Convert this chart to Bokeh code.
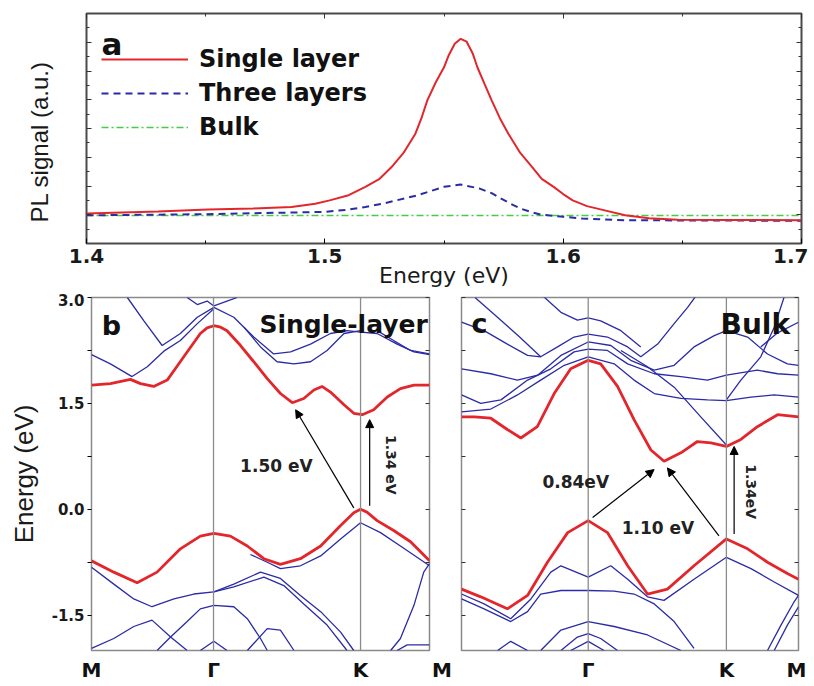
import math
from bokeh.plotting import figure
from bokeh.models import (Range1d, LinearAxis, FixedTicker, Label, Arrow, NormalHead,
                          Span, Legend, LegendItem, CustomJSTickFormatter)
from bokeh.layouts import column, row
from bokeh.embed import file_html
from bokeh.resources import INLINE

# ---------------- panel a : PL spectra ----------------
pl_energy_single = [1.400, 1.430, 1.451, 1.470, 1.486, 1.496, 1.502, 1.510, 1.517, 1.523, 1.528,
                    1.533, 1.538, 1.5405, 1.543, 1.5465, 1.550, 1.552, 1.5545, 1.557, 1.5595,
                    1.562, 1.564, 1.567, 1.570, 1.5735, 1.577, 1.582, 1.587, 1.591, 1.596, 1.600,
                    1.604, 1.610, 1.617, 1.626, 1.636, 1.648, 1.670, 1.700]
pl_single = [1.04, 1.11, 1.18, 1.22, 1.27, 1.38, 1.50, 1.68, 1.97, 2.25, 2.66, 3.15, 3.82, 4.35,
             4.98, 5.60, 6.13, 6.55, 6.95, 7.12, 7.02, 6.62, 6.13, 5.55, 4.98, 4.35, 3.82, 3.15,
             2.66, 2.25, 1.97, 1.72, 1.50, 1.30, 1.16, 0.98, 0.88, 0.83, 0.82, 0.81]
pl_energy_three = [1.400, 1.450, 1.500, 1.510, 1.517, 1.524, 1.530, 1.535, 1.539, 1.545, 1.550,
                   1.557, 1.565, 1.570, 1.574, 1.578, 1.582, 1.587, 1.591, 1.600, 1.608, 1.626,
                   1.660, 1.700]
pl_three = [0.98, 1.02, 1.10, 1.18, 1.27, 1.38, 1.50, 1.60, 1.68, 1.84, 1.97, 2.05, 1.91, 1.75,
            1.56, 1.38, 1.22, 1.08, 1.00, 0.93, 0.87, 0.81, 0.80, 0.79]
pl_energy_bulk = [1.40, 1.50, 1.60, 1.70]
pl_bulk = [0.97, 0.97, 0.97, 0.97]
series_names = ["Single layer", "Three layers", "Bulk"]
x_ticks_a = [1.4, 1.5, 1.6, 1.7]

# ---------------- panel b : single layer bands ----------------
b_klabels = ["M", "\u0393", "K", "\u2003\u2005M"]
b_kpts = [0.0, 0.361, 0.796, 1.0]
b_cb_k = [0, 0.056, 0.115, 0.145, 0.184, 0.224, 0.273, 0.322, 0.342, 0.362, 0.382, 0.401, 0.441,
          0.480, 0.520, 0.559, 0.594, 0.628, 0.658, 0.682, 0.707, 0.747, 0.776, 0.801, 0.835,
          0.875, 0.914, 0.954, 1.0]
b_cb = [1.76, 1.78, 1.84, 1.78, 1.74, 1.83, 2.16, 2.49, 2.57, 2.60, 2.58, 2.53, 2.32, 2.09, 1.85,
        1.64, 1.51, 1.57, 1.69, 1.74, 1.66, 1.48, 1.36, 1.34, 1.41, 1.59, 1.71, 1.76, 1.76]
b_vb_k = [0, 0.066, 0.135, 0.194, 0.263, 0.322, 0.362, 0.411, 0.461, 0.510, 0.559, 0.618, 0.678,
          0.737, 0.776, 0.796, 0.815, 0.845, 0.894, 0.944, 1.0]
b_vb = [-0.73, -0.89, -1.04, -0.89, -0.56, -0.38, -0.34, -0.38, -0.52, -0.70, -0.78, -0.70, -0.52,
        -0.23, -0.05, 0.0, -0.04, -0.16, -0.30, -0.46, -0.73]
b_other_k = [
    [0, 0.066, 0.125, 0.179, 0.244, 0.303, 0.362],
    [0.362, 0.421, 0.500, 0.559, 0.618, 0.678, 0.737, 0.776],
    [0.362, 0.421, 0.510, 0.569, 0.628, 0.697, 0.756],
    [0.470, 0.520, 0.559, 0.618, 0.678, 0.737, 0.796, 0.855, 0.914, 1.0],
    [0, 0.066, 0.125, 0.179, 0.234, 0.283],
    [0.194, 0.234, 0.283, 0.322, 0.362, 0.421, 0.461, 0.500, 0.520],
    [0.322, 0.362, 0.401],
    [0.461, 0.520, 0.559, 0.599],
    [0.885, 0.914, 0.954, 0.983, 1.0],
    [0.904, 0.934, 1.0],
    [0, 0.056, 0.120, 0.165, 0.214, 0.263, 0.313, 0.362],
    [0.106, 0.155, 0.209, 0.263, 0.313, 0.362],
    [0.362, 0.421, 0.480, 0.539, 0.589, 0.648, 0.707, 0.756, 0.796, 0.845, 0.904, 0.954, 1.0],
    [0.451, 0.500, 0.549, 0.599, 0.648, 0.697, 0.747, 0.796],
    [0.283, 0.313, 0.342, 0.362, 0.401, 0.431],
    [0.845, 0.894, 0.944, 1.0],
]
b_other_e = [
    [-0.82, -1.06, -1.27, -1.38, -1.27, -1.20, -1.17],
    [-1.17, -1.06, -0.89, -0.98, -1.22, -1.45, -1.74, -2.0],
    [-1.17, -1.10, -0.96, -1.08, -1.34, -1.64, -2.0],
    [-0.64, -0.75, -0.84, -0.80, -0.66, -0.42, -0.19, -0.33, -0.52, -0.80],
    [-1.97, -1.83, -1.66, -1.57, -1.81, -2.0],
    [-2.0, -1.81, -1.59, -1.41, -1.36, -1.38, -1.55, -1.83, -2.0],
    [-2.0, -1.87, -2.0],
    [-2.0, -1.69, -1.71, -2.0],
    [-2.0, -1.83, -1.36, -0.89, -0.77],
    [-2.0, -1.92, -1.92],
    [2.19, 2.06, 1.88, 2.02, 2.24, 2.39, 2.63, 2.84],
    [3.0, 2.67, 2.32, 2.49, 2.72, 2.86],
    [2.86, 2.72, 2.44, 2.20, 2.23, 2.34, 2.49, 2.53, 2.51, 2.49, 2.34, 2.23, 2.19],
    [2.58, 2.30, 2.09, 2.06, 2.09, 2.25, 2.49, 2.53],
    [3.0, 2.90, 2.95, 2.88, 2.95, 3.0],
    [2.53, 2.39, 2.25, 2.20],
]

# ---------------- panel c : bulk bands ----------------
c_klabels = ["\u0393", "K", "M"]
c_kpts = [0.376, 0.786, 1.0]
c_cb_k = [0, 0.038, 0.087, 0.136, 0.176, 0.225, 0.275, 0.324, 0.376, 0.413, 0.463, 0.512, 0.562,
          0.601, 0.651, 0.700, 0.740, 0.786, 0.829, 0.878, 0.938, 1.0]
c_cb = [1.31, 1.31, 1.29, 1.13, 1.01, 1.17, 1.64, 1.99, 2.11, 2.06, 1.74, 1.27, 0.84, 0.68, 0.80,
        0.96, 0.94, 0.89, 0.99, 1.17, 1.34, 1.31]
c_vb_k = [0, 0.057, 0.136, 0.196, 0.255, 0.315, 0.376, 0.433, 0.493, 0.552, 0.611, 0.690, 0.786,
          0.849, 0.908, 0.967, 1.0]
c_vb = [-1.13, -1.24, -1.41, -1.22, -0.75, -0.33, -0.16, -0.33, -0.80, -1.20, -1.13, -0.80, -0.42,
        -0.56, -0.75, -0.91, -0.99]
c_other_k = [
    [0, 0.067, 0.146, 0.206, 0.265, 0.295, 0.376, 0.443, 0.493, 0.552, 0.601, 0.690, 0.786, 0.859, 0.928, 1.0],
    [0, 0.067, 0.146, 0.196, 0.235, 0.295, 0.376, 0.453, 0.512, 0.572, 0.631, 0.690],
    [0.235, 0.295, 0.376, 0.453, 0.552, 0.651],
    [0.295, 0.344, 0.376, 0.413, 0.463],
    [0.324, 0.376, 0.423],
    [0.107, 0.146, 0.196],
    [0.908, 0.948, 0.987, 1.0],
    [0.928, 0.967, 1.0],
    [0, 0.087, 0.166, 0.235, 0.305, 0.376, 0.453, 0.512, 0.572, 0.651, 0.730, 0.786, 0.859, 0.928, 1.0],
    [0, 0.057, 0.117, 0.196, 0.265, 0.334, 0.376, 0.433, 0.493, 0.572, 0.651, 0.730, 0.786, 0.878, 0.938, 1.0],
    [0, 0.087, 0.166, 0.226, 0.295, 0.376, 0.443, 0.502, 0.572, 0.631, 0.690, 0.750, 0.786, 0.849, 0.908, 0.967, 1.0],
    [0, 0.067, 0.136, 0.196, 0.235, 0.285, 0.334, 0.376, 0.433, 0.493, 0.532, 0.582, 0.631, 0.671, 0.700],
    [0.235, 0.295, 0.344, 0.376, 0.413, 0.473, 0.532],
    [0.473, 0.552, 0.631, 0.710, 0.786],
    [0.786, 0.829, 0.888, 0.928, 0.957],
    [0.888, 0.938, 1.0],
    [0.04, 0.10, 0.17, 0.235],
]
c_other_e = [
    [-1.20, -1.34, -1.55, -1.27, -0.89, -0.80, -0.96, -0.80, -0.99, -1.24, -1.29, -0.99, -0.68, -0.84, -1.03, -1.22],
    [-1.27, -1.41, -1.59, -1.45, -1.20, -1.15, -1.15, -1.16, -1.20, -1.34, -1.59, -1.97],
    [-2.0, -1.71, -1.59, -1.66, -1.78, -2.0],
    [-2.0, -1.81, -1.76, -1.83, -2.0],
    [-2.0, -1.87, -2.0],
    [-2.0, -1.87, -2.0],
    [-2.0, -1.64, -1.31, -1.22],
    [-2.0, -1.64, -1.38],
    [1.38, 1.42, 1.62, 1.83, 2.04, 2.16, 2.06, 1.83, 1.64, 1.57, 1.55, 1.54, 1.59, 1.62, 1.59],
    [1.62, 1.50, 1.55, 1.83, 1.99, 2.23, 2.27, 2.25, 2.06, 1.92, 1.88, 1.83, 1.90, 1.97, 1.92, 1.90],
    [1.99, 1.92, 1.83, 1.90, 2.18, 2.37, 2.32, 2.11, 1.97, 2.04, 2.30, 2.46, 2.53, 2.44, 2.20, 2.06, 2.04],
    [2.65, 2.53, 2.34, 2.18, 2.16, 2.30, 2.44, 2.48, 2.44, 2.30, 2.16, 2.34, 2.63, 2.86, 3.05],
    [3.05, 2.79, 2.68, 2.71, 2.67, 2.53, 2.30],
    [2.25, 2.02, 1.73, 1.31, 0.91],
    [1.55, 1.83, 2.16, 2.58, 3.0],
    [2.30, 2.50, 2.65],
    [3.0, 2.75, 2.45, 2.16],
]
e_ticks = [-1.5, 0.0, 1.5, 3.0]
e_minor = [-0.75, 0.75, 2.25]

RED = "#e3262b"
BLUE = "#2b2ba6"
BOLD = "DejaVu Sans"


def blank_axis(ax, tin=5, tout=0, mtin=3, mtout=0):
    ax.formatter = CustomJSTickFormatter(code="return ''")
    ax.major_label_text_font_size = "0px"
    ax.major_label_standoff = 0
    ax.major_tick_in = tin
    ax.major_tick_out = tout
    ax.minor_tick_in = mtin
    ax.minor_tick_out = mtout
    ax.axis_line_color = None
    ax.major_tick_line_color = "#333333"
    ax.minor_tick_line_color = "#333333"


# ================= panel a =================
pa = figure(width=808, height=293, x_range=Range1d(1.4, 1.7), y_range=Range1d(0, 8),
            min_border_left=86, min_border_right=7, min_border_top=13, min_border_bottom=50,
            output_backend="svg", toolbar_location=None, x_axis_location=None, y_axis_location=None)
pa.grid.visible = False
pa.outline_line_color = "#4a4a4a"
pa.outline_line_width = 2

xa = LinearAxis(ticker=FixedTicker(ticks=x_ticks_a, minor_ticks=[1.45, 1.55, 1.65]),
                axis_label="Energy (eV)")
xa.major_label_text_font = BOLD
xa.major_label_text_font_style = "bold"
xa.major_label_text_font_size = "20px"
xa.major_label_text_color = "#1a1a1a"
xa.major_label_standoff = 5
xa.major_tick_in = 5
xa.major_tick_out = 0
xa.minor_tick_in = 3
xa.minor_tick_out = 0
xa.axis_line_color = None
xa.axis_label_text_font = "DejaVu Sans"
xa.axis_label_text_font_style = "normal"
xa.axis_label_text_font_size = "22px"
xa.axis_label_standoff = -3
xa.axis_label_text_color = "#1a1a1a"
pa.add_layout(xa, "below")

xt = LinearAxis(ticker=FixedTicker(ticks=x_ticks_a, minor_ticks=[1.45, 1.55, 1.65]))
blank_axis(xt)
pa.add_layout(xt, "above")

ya_ticker = FixedTicker(ticks=[1, 2, 3, 4, 5, 6, 7], minor_ticks=[0.5, 1.5, 2.5, 3.5, 4.5, 5.5, 6.5, 7.5])
ya = LinearAxis(ticker=ya_ticker, axis_label="PL signal (a.u.)\u00a0\u00a0\u00a0\u00a0")
blank_axis(ya)
ya.axis_label_text_font = "Liberation Sans"
ya.axis_label_text_font_style = "normal"
ya.axis_label_text_font_size = "24px"
ya.axis_label_standoff = 34
ya.axis_label_text_color = "#1a1a1a"
pa.add_layout(ya, "left")
yr = LinearAxis(ticker=ya_ticker)
blank_axis(yr)
pa.add_layout(yr, "right")

r_bulk = pa.line(pl_energy_bulk, pl_bulk, line_color="#44cc44", line_width=1.5, line_dash="7 3 2 3")
r_three = pa.line(pl_energy_three, pl_three, line_color=BLUE, line_width=2, line_dash="7 5")
r_single = pa.line(pl_energy_single, pl_single, line_color=RED, line_width=2)

legend = Legend(items=[LegendItem(label=series_names[0], renderers=[r_single]),
                       LegendItem(label=series_names[1], renderers=[r_three]),
                       LegendItem(label=series_names[2], renderers=[r_bulk])],
                location=(15, 102), glyph_width=87, glyph_height=20, label_standoff=11,
                spacing=6, padding=0, margin=0, border_line_color=None, background_fill_alpha=0,
                label_text_font=BOLD, label_text_font_style="bold", label_text_font_size="24px",
                label_text_color="#111111")
pa.add_layout(legend)
pa.add_layout(Label(x=1.4063, y=6.95, text="a", text_font=BOLD, text_font_style="bold",
                    text_font_size="31px", text_baseline="alphabetic", text_color="#111111"))


# ================= band panels =================
def band_panel(width, mbl, mbr, kpts, klabels, vlines, other_k, other_e, cb_k, cb, vb_k, vb,
               labelled):
    p = figure(width=width, height=391, x_range=Range1d(0, 1), y_range=Range1d(-2.0, 3.0),
               min_border_left=mbl, min_border_right=mbr, min_border_top=4, min_border_bottom=32,
               output_backend="svg", toolbar_location=None, x_axis_location=None,
               y_axis_location=None)
    p.grid.visible = False
    p.outline_line_color = "#8a8a8a"
    p.outline_line_width = 1.5
    for kk in vlines:
        p.add_layout(Span(location=kk, dimension="height", line_color="#8c8c8c", line_width=1.3))
    p.multi_line(other_k, other_e, line_color=BLUE, line_width=1.3)
    p.line(cb_k, cb, line_color=RED, line_width=2.8)
    p.line(vb_k, vb, line_color=RED, line_width=2.8)
    tick = FixedTicker(ticks=e_ticks, minor_ticks=e_minor)
    yl = LinearAxis(ticker=tick)
    if labelled:
        yl.formatter = CustomJSTickFormatter(code="return tick.toFixed(1)")
        yl.major_label_text_font = BOLD
        yl.major_label_text_font_style = "bold"
        yl.major_label_text_font_size = "15px"
        yl.major_label_text_color = "#1a1a1a"
        yl.major_label_standoff = 3
        yl.major_tick_in = 0
        yl.major_tick_out = 4
        yl.minor_tick_in = 0
        yl.minor_tick_out = 4
        yl.axis_line_color = None
        yl.axis_label = "Energy (eV)"
        yl.axis_label_text_font = "Liberation Sans"
        yl.axis_label_text_font_style = "normal"
        yl.axis_label_text_font_size = "26px"
        yl.axis_label_standoff = 10
        yl.axis_label_text_color = "#1a1a1a"
    else:
        blank_axis(yl, 4, 0, 4, 0)
    p.add_layout(yl, "left")
    yr2 = LinearAxis(ticker=tick)
    blank_axis(yr2, 4, 0, 4, 0)
    p.add_layout(yr2, "right")
    xb = LinearAxis(ticker=FixedTicker(ticks=kpts, minor_ticks=[]))
    xb.formatter = CustomJSTickFormatter(
        args=dict(ks=kpts, labs=klabels),
        code="for (let i = 0; i < ks.length; i++) { if (Math.abs(tick - ks[i]) < 1e-6) return labs[i]; } return '';")
    xb.major_label_text_font = BOLD
    xb.major_label_text_font_style = "bold"
    xb.major_label_text_font_size = "20px"
    xb.major_label_text_color = "#111111"
    xb.major_label_standoff = 7
    xb.major_tick_in = 0
    xb.major_tick_out = 0
    xb.axis_line_color = None
    p.add_layout(xb, "below")
    return p


pb = band_panel(458, 91, 29, b_kpts, b_klabels, b_kpts[1:3], b_other_k, b_other_e,
                b_cb_k, b_cb, b_vb_k, b_vb, True)
pc = band_panel(348, 3, 8, c_kpts, c_klabels, c_kpts[0:2], c_other_k, c_other_e,
                c_cb_k, c_cb, c_vb_k, c_vb, False)

head = lambda: NormalHead(size=8, fill_color="black", line_color="black", line_width=1)

# panel b texts and arrows
pb.add_layout(Label(x=0.03, y=2.61, text="b", text_font=BOLD, text_font_style="bold",
                    text_font_size="27px", text_baseline="alphabetic", text_color="#111111"))
pb.add_layout(Label(x=0.995, y=2.62, text="Single-layer", text_font=BOLD, text_font_style="bold",
                    text_font_size="25px", text_align="right", text_baseline="alphabetic",
                    text_color="#111111"))
pb.add_layout(Arrow(end=head(), x_start=0.776, y_start=0.02, x_end=0.604, y_end=1.41,
                    line_width=1.2, line_color="black"))
pb.add_layout(Arrow(end=head(), x_start=0.823, y_start=0.05, x_end=0.823, y_end=1.27,
                    line_width=1.2, line_color="black"))
pb.add_layout(Label(x=0.547, y=0.62, text="1.50 eV", text_font=BOLD, text_font_style="bold",
                    text_font_size="17px", text_align="center", text_baseline="middle",
                    text_color="#222222"))
pb.add_layout(Label(x=0.885, y=0.63, text="1.34 eV", angle=-math.pi / 2, text_font=BOLD,
                    text_font_style="bold", text_font_size="14px", text_align="center",
                    text_baseline="middle", text_color="#222222"))

# panel c texts and arrows
pc.add_layout(Label(x=0.03, y=2.63, text="c", text_font=BOLD, text_font_style="bold",
                    text_font_size="27px", text_baseline="alphabetic", text_color="#111111"))
pc.add_layout(Label(x=0.975, y=2.62, text="Bulk", text_font=BOLD, text_font_style="bold",
                    text_font_size="28px", text_align="right", text_baseline="alphabetic",
                    text_color="#111111"))
pc.add_layout(Arrow(end=head(), x_start=0.389, y_start=-0.117, x_end=0.5715, y_end=0.563,
                    line_width=1.2, line_color="black"))
pc.add_layout(Arrow(end=head(), x_start=0.764, y_start=-0.375, x_end=0.611, y_end=0.586,
                    line_width=1.2, line_color="black"))
pc.add_layout(Arrow(end=head(), x_start=0.809, y_start=-0.35, x_end=0.809, y_end=0.89,
                    line_width=1.2, line_color="black"))
pc.add_layout(Label(x=0.339, y=0.39, text="0.84eV", text_font=BOLD, text_font_style="bold",
                    text_font_size="17px", text_align="center", text_baseline="middle",
                    text_color="#222222"))
pc.add_layout(Label(x=0.583, y=-0.27, text="1.10 eV", text_font=BOLD, text_font_style="bold",
                    text_font_size="17px", text_align="center", text_baseline="middle",
                    text_color="#222222"))
pc.add_layout(Label(x=0.858, y=0.25, text="1.34eV", angle=-math.pi / 2, text_font=BOLD,
                    text_font_style="bold", text_font_size="14px", text_align="center",
                    text_baseline="middle", text_color="#222222"))

layout = column(pa, row(pb, pc))
open("out.html", "w").write(file_html(layout, INLINE))
